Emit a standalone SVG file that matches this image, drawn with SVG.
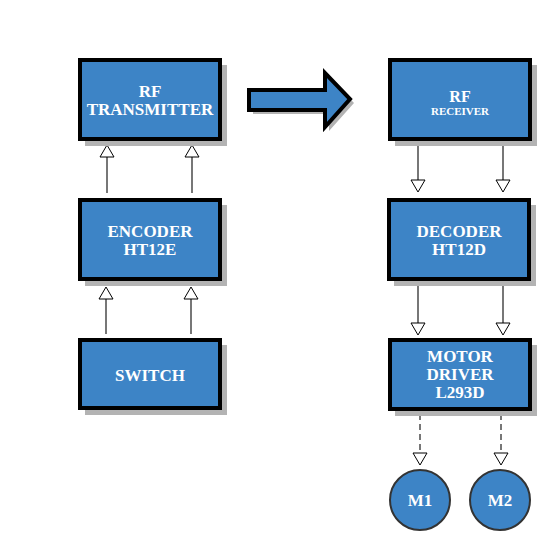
<svg xmlns="http://www.w3.org/2000/svg" width="550" height="550" viewBox="0 0 550 550">
<defs>
<style>
.shadow{fill:#b3b3b3}
.box{fill:#3d84c6;stroke:#000;stroke-width:4}
.t{font-family:"Liberation Serif","Times New Roman",serif;font-weight:bold;fill:#fff;text-anchor:middle}
.f17{font-size:17px}
.line{stroke:#777;stroke-width:2;fill:none}
.dash{stroke:#777;stroke-width:2;fill:none;stroke-dasharray:6,4}
.head{fill:#fff;stroke:#000;stroke-width:1}
.circ{fill:#3d84c6;stroke:#333;stroke-width:2}
</style>
</defs>
<rect width="550" height="550" fill="#fff"/>

<g id="connectors">
  <line class="line" x1="106" y1="334" x2="106" y2="299"/>
  <polygon class="head" points="106,287 99,299 113,299"/>
  <line class="line" x1="191" y1="334" x2="191" y2="299"/>
  <polygon class="head" points="191,287 184,299 198,299"/>
  <line class="line" x1="107" y1="193" x2="107" y2="157"/>
  <polygon class="head" points="107,145 100,157 114,157"/>
  <line class="line" x1="192" y1="193" x2="192" y2="157"/>
  <polygon class="head" points="192,145 185,157 199,157"/>
  <line class="line" x1="418" y1="144" x2="418" y2="180"/>
  <polygon class="head" points="418,192 411,180 425,180"/>
  <line class="line" x1="503" y1="144" x2="503" y2="180"/>
  <polygon class="head" points="503,192 496,180 510,180"/>
  <line class="line" x1="418" y1="285" x2="418" y2="323"/>
  <polygon class="head" points="418,335 411,323 425,323"/>
  <line class="line" x1="503" y1="285" x2="503" y2="323"/>
  <polygon class="head" points="503,335 496,323 510,323"/>
  <line class="dash" x1="420" y1="414" x2="420" y2="453"/>
  <polygon class="head" points="420,465 413,453 427,453"/>
  <line class="dash" x1="501" y1="414" x2="501" y2="453"/>
  <polygon class="head" points="501,465 494,453 508,453"/>
</g>

<g id="big-arrow">
  <polygon class="shadow" points="253,94 329,94 329,77 354,103 329,131 329,114 253,114"/>
  <polygon class="box" points="249,90 325,90 325,73 350,99 325,127 325,110 249,110"/>
</g>

<g id="rf-transmitter">
  <rect class="shadow" x="85" y="65" width="142" height="81"/>
  <rect class="box" x="80" y="60" width="140" height="79"/>
  <text class="t f17" x="150" y="97">RF</text>
  <text class="t f17" x="150" y="115">TRANSMITTER</text>
</g>

<g id="encoder">
  <rect class="shadow" x="85" y="205" width="142" height="81"/>
  <rect class="box" x="80" y="200" width="140" height="79"/>
  <text class="t f17" x="150" y="237">ENCODER</text>
  <text class="t f17" x="150" y="255">HT12E</text>
</g>

<g id="switch">
  <rect class="shadow" x="85" y="345" width="142" height="70"/>
  <rect class="box" x="80" y="340" width="140" height="68"/>
  <text class="t f17" x="150" y="381">SWITCH</text>
</g>

<g id="rf-receiver">
  <rect class="shadow" x="395" y="65" width="142" height="81"/>
  <rect class="box" x="390" y="60" width="140" height="79"/>
  <text class="t" x="460" y="102" font-size="16">RF</text>
  <text class="t" x="460" y="115" font-size="11">RECEIVER</text>
</g>

<g id="decoder">
  <rect class="shadow" x="394" y="205" width="142" height="81"/>
  <rect class="box" x="389" y="200" width="140" height="79"/>
  <text class="t f17" x="459" y="237">DECODER</text>
  <text class="t f17" x="459" y="255">HT12D</text>
</g>

<g id="motor-driver">
  <rect class="shadow" x="395" y="345" width="142" height="71"/>
  <rect class="box" x="390" y="340" width="140" height="69"/>
  <text class="t f17" x="460" y="362">MOTOR</text>
  <text class="t f17" x="460" y="380">DRIVER</text>
  <text class="t f17" x="460" y="398">L293D</text>
</g>

<g id="m1">
  <circle class="circ" cx="420" cy="500" r="30"/>
  <text class="t f17" x="420" y="506">M1</text>
</g>

<g id="m2">
  <circle class="circ" cx="500" cy="500" r="30"/>
  <text class="t f17" x="500" y="506">M2</text>
</g>
</svg>
